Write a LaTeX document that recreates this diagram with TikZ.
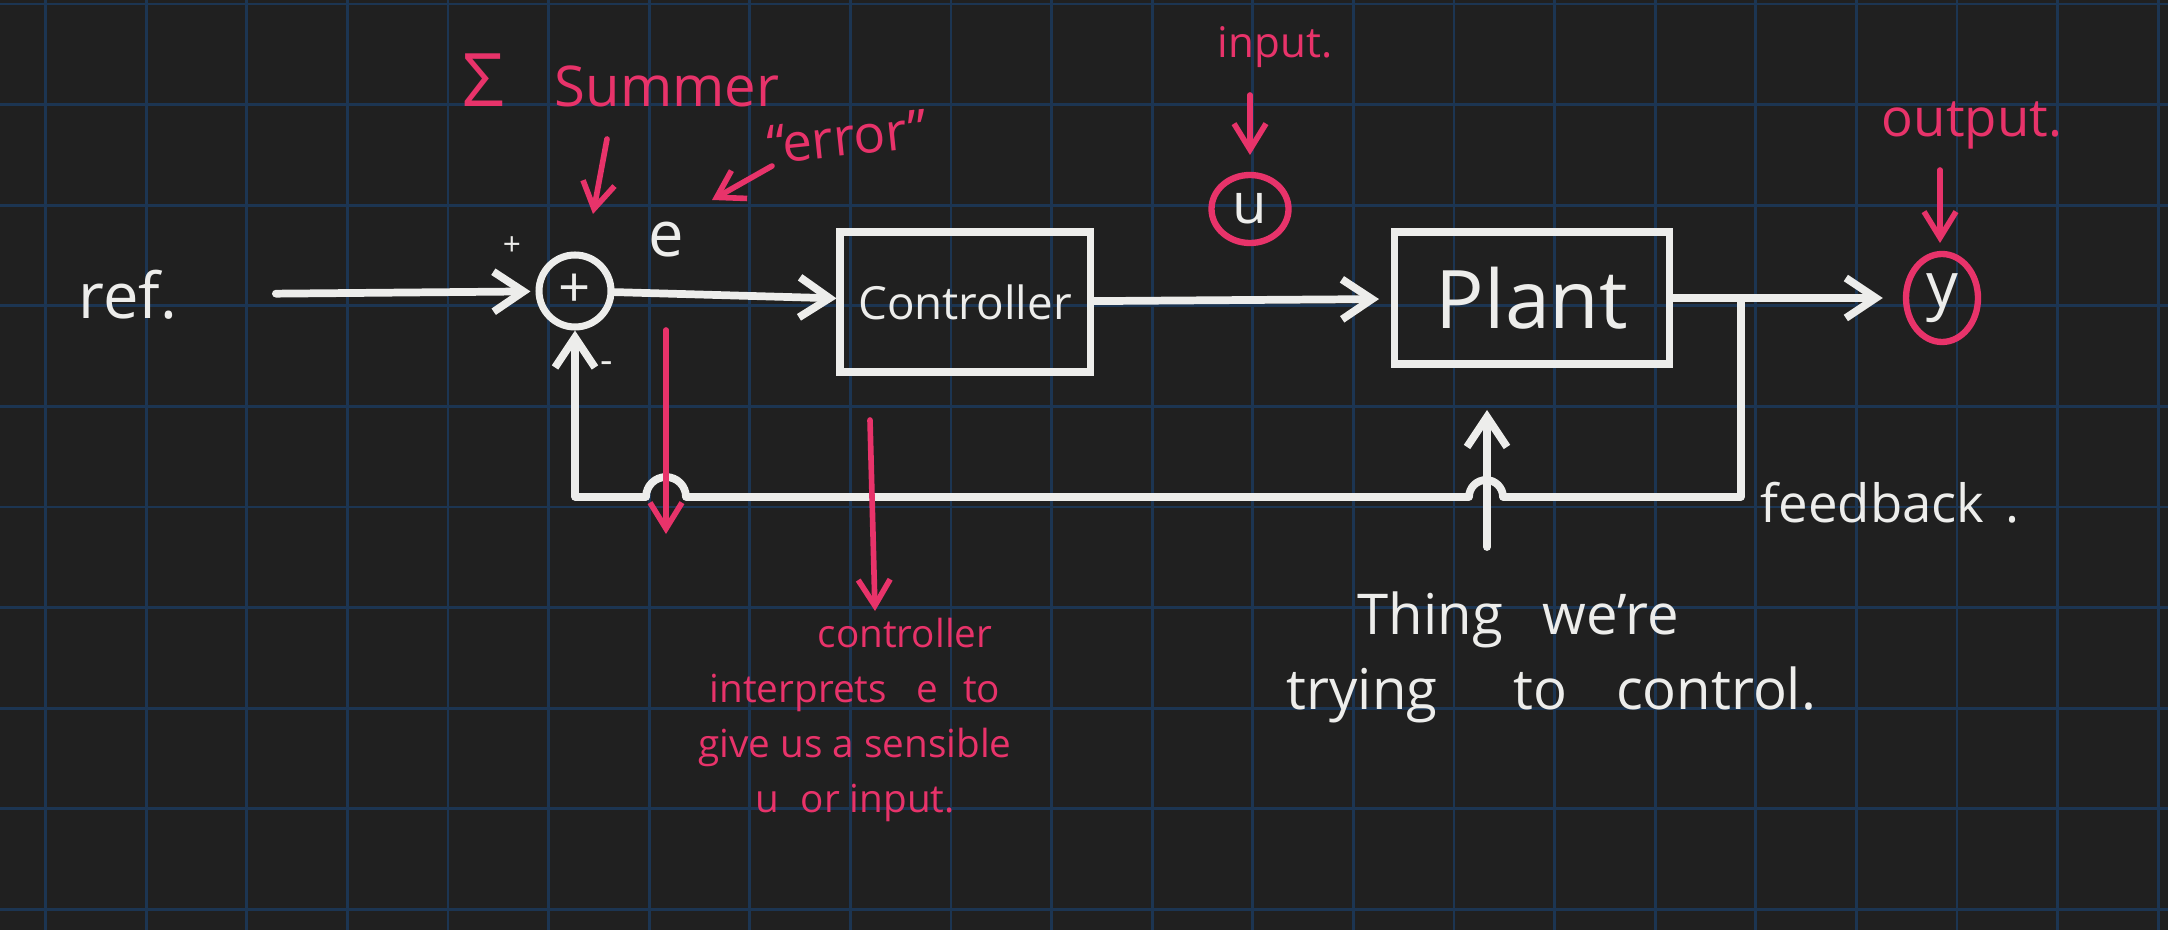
\documentclass[tikz,border=0pt]{standalone}
\usepackage{fontspec}
\setmainfont{Open Sans}
\usepackage{xcolor}
\usetikzlibrary{arrows.meta,positioning,shapes.geometric}

\definecolor{boardbg}{HTML}{202020}
\definecolor{gridblue}{HTML}{1C3552}
\definecolor{chalk}{HTML}{EDEDEB}
\definecolor{marker}{HTML}{E8336A}

\begin{document}
\begin{tikzpicture}[
gridline/.style={draw=gridblue, line width=0.8pt},
wire/.style={draw=chalk, line width=2.2pt, line cap=round, line join=round},
arrow/.style={wire, -{Straight Barb[length=3mm, width=4mm]}},
block/.style={draw=chalk, line width=2pt, minimum width=2.5cm, minimum height=1.4cm, text=chalk, font=\fontsize{13}{15}\selectfont},
hand/.style={text=chalk, inner sep=0pt},
note/.style={text=marker, inner sep=0pt},
notearrow/.style={draw=marker, line width=1.6pt, line cap=round, -{Straight Barb[length=2.6mm, width=3.2mm]}},
ring/.style={ellipse, draw=marker, line width=1.8pt, inner sep=0pt, text=chalk}
]
\useasboundingbox (0,0) rectangle (21.68,-9.30);
\fill[boardbg] (0,0) rectangle (21.68,-9.30);
\foreach \i in {0,...,21} \draw[gridline] ({0.456+1.006*\i},0) -- ++(0,-9.30);
\foreach \j in {0,...,9} \draw[gridline] (0,{-0.04-1.006*\j}) -- ++(21.68,0);

% main loop
\node[hand, font=\fontsize{18}{20}\selectfont] (ref) at (1.28,-2.95) {ref.};
\node[circle, draw=chalk, line width=2pt, minimum size=0.72cm, inner sep=0pt, text=chalk, font=\fontsize{16}{16}\selectfont] (sum) at (5.75,-2.91) {+};
\node[hand, font=\fontsize{9}{9}\selectfont] (plus) at (5.12,-2.46) {+};
\node[hand, font=\fontsize{11}{11}\selectfont] (minus) at (6.07,-3.68) {-};
\node[hand, font=\fontsize{18}{18}\selectfont] (err) at (6.66,-2.40) {e};
\node[block] (ctrl) at (9.65,-3.02) {Controller};
\node[block, minimum width=2.75cm, minimum height=1.32cm, font=\fontsize{23}{25}\selectfont] (plant) at (15.32,-2.98) {Plant};
\node[ring, minimum width=0.77cm, minimum height=0.68cm, font=\fontsize{16}{16}\selectfont] (uin) at (12.50,-2.09) {u};
\node[ring, minimum width=0.72cm, minimum height=0.88cm, font=\fontsize{18}{18}\selectfont] (yout) at (19.42,-2.98) {y};
\coordinate (split) at (17.41,-2.98);

\draw[arrow, shorten <=0.98cm, shorten >=0.05cm] (ref) -- (sum);
\draw[arrow] (sum) -- (ctrl);
\draw[arrow, shorten >=0.12cm] (ctrl) -- (plant);
\draw[arrow, shorten >=0.2cm] (plant) -- (yout);
\draw[arrow] (split) -- (17.41,-4.97) -- (15.03,-4.97) arc[start angle=0, end angle=180, radius=0.17]
  -- (6.86,-4.97) arc[start angle=0, end angle=180, radius=0.2] -- (5.75,-4.97) -- (sum);

% disturbance into the plant
\coordinate (distlow) at (14.87,-5.47);
\coordinate (disthigh) at (14.87,-4.10);
\draw[arrow] (distlow) -- (disthigh);

\node[hand, anchor=west, font=\fontsize{15}{17}\selectfont] (fb) at (17.60,-5.03) {feedback\hspace{0.4em}.};
\node[hand, anchor=west, font=\fontsize{16}{18}\selectfont] (thingA) at (13.57,-6.20) {Thing\hspace{0.45em} we're};
\node[hand, anchor=west, font=\fontsize{16}{18}\selectfont] (thingB) at (12.86,-6.95) {trying\hspace{1.1em} to\hspace{0.6em} control.};

% annotations
\node[note, font=\fontsize{16}{18}\selectfont] (summerlbl) at (6.21,-0.80) {{\fontsize{21}{21}\selectfont Σ}\hspace{0.9em}Summer};
\coordinate (sumtail) at (6.07,-1.39);
\coordinate (sumtip) at (5.93,-2.14);
\draw[notearrow] (sumtail) -- (sumtip);

\node[note, rotate=6, font=\fontsize{15}{17}\selectfont] (errlbl) at (8.47,-1.37) {“error”};
\coordinate (errtail) at (7.72,-1.66);
\coordinate (errtip) at (7.12,-2.00);
\draw[notearrow] (errtail) -- (errtip);

\coordinate (etail) at (6.66,-3.30);
\coordinate (etip) at (6.66,-5.34);
\draw[notearrow] (etail) -- (etip);

\coordinate (ctrltail) at (8.70,-4.20);
\coordinate (ctrltip) at (8.75,-6.11);
\draw[notearrow] (ctrltail) -- (ctrltip);
\node[note, align=center, font=\fontsize{11}{15.6}\selectfont] (ctrllbl) at (8.55,-7.20)
  {\hspace*{1cm}controller\\interprets\hspace{0.5em} e\hspace{0.4em} to\\give us a sensible\\u\hspace{0.3em} or input.};

\node[note, font=\fontsize{12}{14}\selectfont] (inlbl) at (12.75,-0.47) {input.};
\coordinate (intail) at (12.50,-0.95);
\coordinate (intip) at (12.50,-1.55);
\draw[notearrow] (intail) -- (intip);

\node[note, font=\fontsize{15}{17}\selectfont] (outlbl) at (19.72,-1.25) {output.};
\coordinate (outtail) at (19.40,-1.70);
\coordinate (outtip) at (19.40,-2.43);
\draw[notearrow] (outtail) -- (outtip);
\end{tikzpicture}
\end{document}
